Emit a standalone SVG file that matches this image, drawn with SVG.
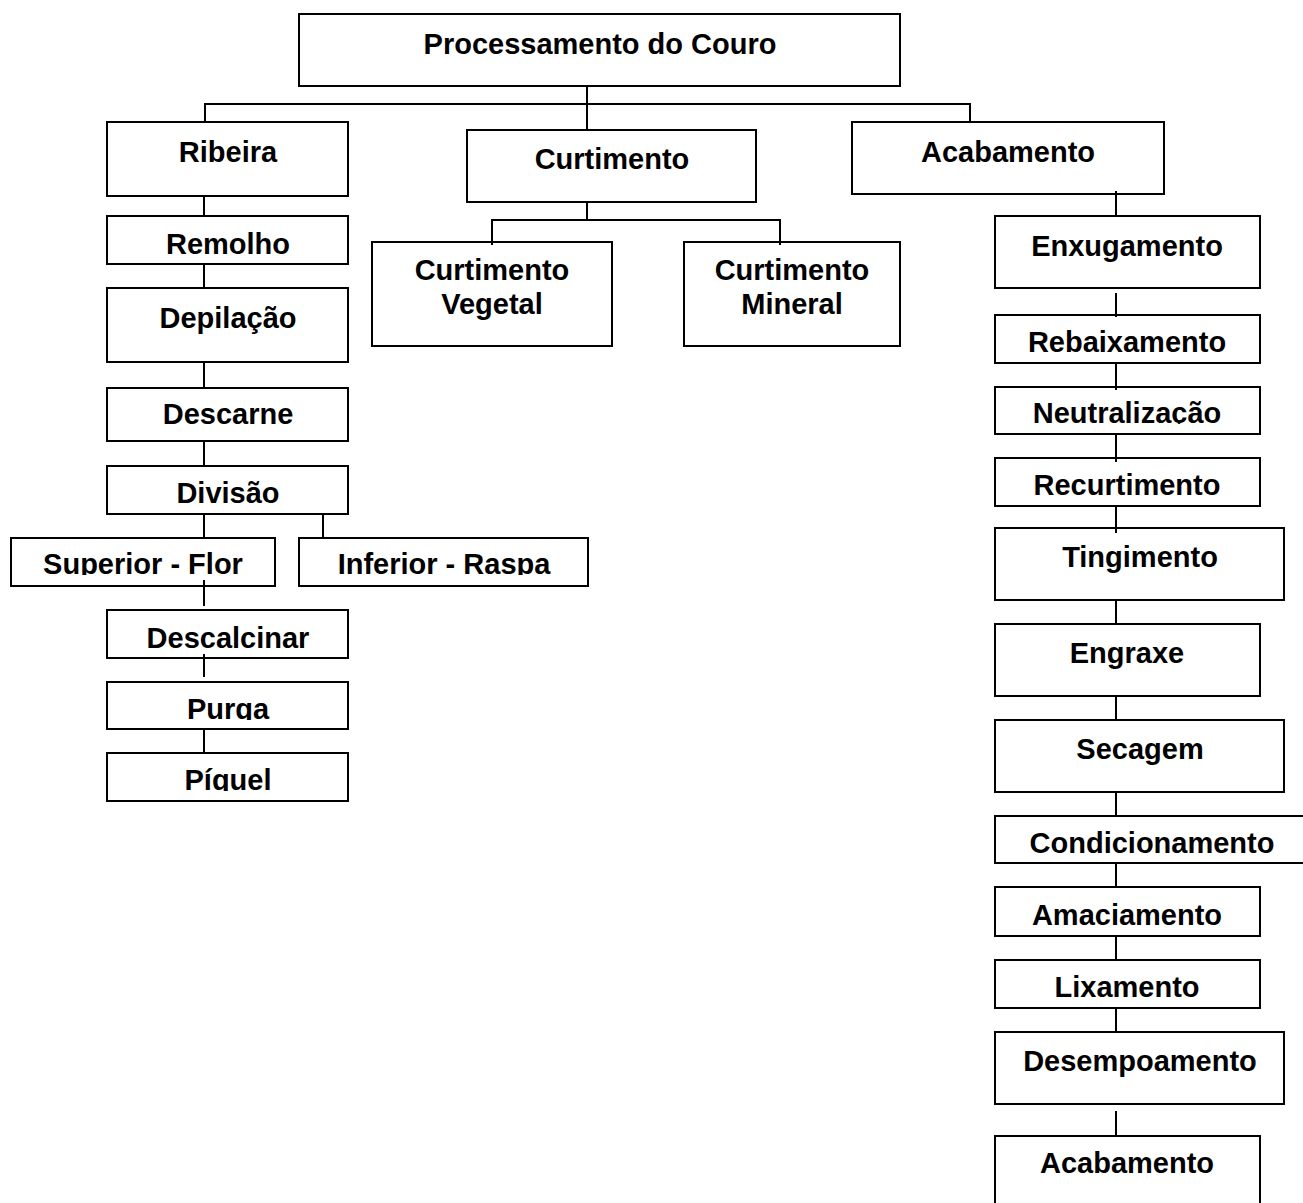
<svg xmlns="http://www.w3.org/2000/svg" width="1303" height="1203" viewBox="0 0 1303 1203">
<style>
rect.b{fill:#fff;stroke:#000;stroke-width:2}
text{font-family:"Liberation Sans",Arial,sans-serif;font-weight:bold;font-size:29px;fill:#000;text-anchor:middle}
#connectors line{stroke:#000;stroke-width:2}
</style>
<defs>
<clipPath id="cSup"><rect x="0" y="530" width="600" height="45"/></clipPath>
<clipPath id="cPurga"><rect x="100" y="675" width="260" height="45"/></clipPath>
<clipPath id="cPiq"><rect x="100" y="745" width="260" height="46"/></clipPath>
<clipPath id="cNeu"><rect x="990" y="380" width="280" height="44"/></clipPath>
</defs>
<rect width="1303" height="1203" fill="#fff"/>
<g id="nodes">
<g id="n-root"><rect class="b" x="299" y="14" width="601" height="72"/><text x="600" y="54">Processamento do Couro</text></g>
<g id="n-ribeira"><rect class="b" x="107" y="122" width="241" height="74"/><text x="228" y="162">Ribeira</text></g>
<g id="n-curtimento"><rect class="b" x="467" y="130" width="289" height="72"/><text x="612" y="169">Curtimento</text></g>
<g id="n-acabamento"><rect class="b" x="852" y="122" width="312" height="72"/><text x="1008" y="162">Acabamento</text></g>
<g id="n-vegetal"><rect class="b" x="372" y="242" width="240" height="104"/><text x="492" y="280">Curtimento</text><text x="492" y="314">Vegetal</text></g>
<g id="n-mineral"><rect class="b" x="684" y="242" width="216" height="104"/><text x="792" y="280">Curtimento</text><text x="792" y="314">Mineral</text></g>
<g id="n-remolho"><rect class="b" x="107" y="216" width="241" height="48"/><text x="228" y="254">Remolho</text></g>
<g id="n-depilacao"><rect class="b" x="107" y="288" width="241" height="74"/><text x="228" y="328">Depilação</text></g>
<g id="n-descarne"><rect class="b" x="107" y="388" width="241" height="53"/><text x="228" y="424">Descarne</text></g>
<g id="n-divisao"><rect class="b" x="107" y="466" width="241" height="48"/><text x="228" y="503">Divisão</text></g>
<g id="n-superior"><rect class="b" x="11" y="538" width="264" height="48"/><text x="143" y="574" clip-path="url(#cSup)">Superior - Flor</text></g>
<g id="n-inferior"><rect class="b" x="299" y="538" width="289" height="48"/><text x="444" y="574" clip-path="url(#cSup)">Inferior - Raspa</text></g>
<g id="n-descalcinar"><rect class="b" x="107" y="610" width="241" height="48"/><text x="228" y="648">Descalcinar</text></g>
<g id="n-purga"><rect class="b" x="107" y="682" width="241" height="47"/><text x="228" y="719" clip-path="url(#cPurga)">Purga</text></g>
<g id="n-piquel"><rect class="b" x="107" y="753" width="241" height="48"/><text x="228" y="790" clip-path="url(#cPiq)">Píquel</text></g>
<g id="n-enxugamento"><rect class="b" x="995" y="216" width="265" height="72"/><text x="1127" y="256">Enxugamento</text></g>
<g id="n-rebaixamento"><rect class="b" x="995" y="315" width="265" height="48"/><text x="1127" y="352">Rebaixamento</text></g>
<g id="n-neutralizacao"><rect class="b" x="995" y="387" width="265" height="47"/><text x="1127" y="423" clip-path="url(#cNeu)">Neutralização</text></g>
<g id="n-recurtimento"><rect class="b" x="995" y="458" width="265" height="48"/><text x="1127" y="495">Recurtimento</text></g>
<g id="n-tingimento"><rect class="b" x="995" y="528" width="289" height="72"/><text x="1140" y="567">Tingimento</text></g>
<g id="n-engraxe"><rect class="b" x="995" y="624" width="265" height="72"/><text x="1127" y="663">Engraxe</text></g>
<g id="n-secagem"><rect class="b" x="995" y="720" width="289" height="72"/><text x="1140" y="759">Secagem</text></g>
<g id="n-condicionamento"><rect class="b" x="995" y="816" width="320" height="47"/><text x="1152" y="853">Condicionamento</text></g>
<g id="n-amaciamento"><rect class="b" x="995" y="887" width="265" height="49"/><text x="1127" y="925">Amaciamento</text></g>
<g id="n-lixamento"><rect class="b" x="995" y="960" width="265" height="48"/><text x="1127" y="997">Lixamento</text></g>
<g id="n-desempoamento"><rect class="b" x="995" y="1032" width="289" height="72"/><text x="1140" y="1071">Desempoamento</text></g>
<g id="n-acabamento2"><rect class="b" x="995" y="1136" width="265" height="74"/><text x="1127" y="1173">Acabamento</text></g>
</g>
<g id="connectors">
<line x1="587" y1="86" x2="587" y2="130"/>
<line x1="204" y1="104" x2="971" y2="104"/>
<line x1="205" y1="104" x2="205" y2="122"/>
<line x1="970" y1="104" x2="970" y2="122"/>
<line x1="587" y1="202" x2="587" y2="220"/>
<line x1="491" y1="220" x2="781" y2="220"/>
<line x1="492" y1="220" x2="492" y2="245"/>
<line x1="780" y1="220" x2="780" y2="245"/>
<line x1="204" y1="196" x2="204" y2="216"/>
<line x1="204" y1="264" x2="204" y2="288"/>
<line x1="204" y1="362" x2="204" y2="389"/>
<line x1="204" y1="441" x2="204" y2="466"/>
<line x1="204" y1="514" x2="204" y2="538"/>
<line x1="323" y1="514" x2="323" y2="538"/>
<line x1="204" y1="580" x2="204" y2="606"/>
<line x1="204" y1="654" x2="204" y2="677"/>
<line x1="204" y1="729" x2="204" y2="753"/>
<line x1="1116" y1="191" x2="1116" y2="216"/>
<line x1="1116" y1="293" x2="1116" y2="317"/>
<line x1="1116" y1="363" x2="1116" y2="390"/>
<line x1="1116" y1="434" x2="1116" y2="462"/>
<line x1="1116" y1="506" x2="1116" y2="533"/>
<line x1="1116" y1="600" x2="1116" y2="624"/>
<line x1="1116" y1="696" x2="1116" y2="720"/>
<line x1="1116" y1="792" x2="1116" y2="816"/>
<line x1="1116" y1="863" x2="1116" y2="887"/>
<line x1="1116" y1="936" x2="1116" y2="960"/>
<line x1="1116" y1="1008" x2="1116" y2="1032"/>
<line x1="1116" y1="1111" x2="1116" y2="1136"/>
</g>
</svg>
